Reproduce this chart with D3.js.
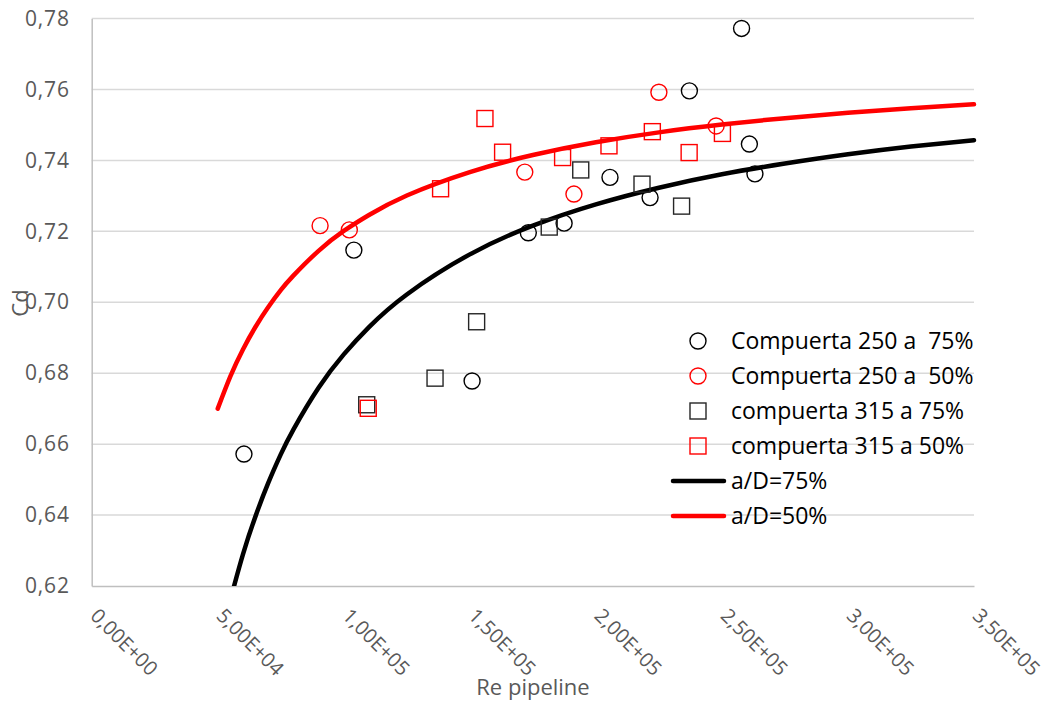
<!DOCTYPE html>
<html>
<head>
<meta charset="utf-8">
<script src="https://cdn.jsdelivr.net/npm/d3@7"></script>
<style>
  html, body { margin: 0; padding: 0; background: #fff; }
  svg { display: block; }
  .legend-label { white-space: pre; }
</style>
</head>
<body>
<svg id="chart" width="1045" height="704"></svg>
<script>
// Measured discharge coefficients (Cd) against pipeline Reynolds number
const gate250at75Re = [60400, 104000, 150900, 173200, 187400, 205600, 221500, 237100, 257800, 260900, 263100];
const gate250at75Cd = [0.6572, 0.7147, 0.6778, 0.7196, 0.7223, 0.7352, 0.7295, 0.7596, 0.7772, 0.7446, 0.7362];

const gate250at50Re = [90600, 102200, 171800, 191300, 225000, 247700];
const gate250at50Cd = [0.7216, 0.7204, 0.7367, 0.7305, 0.7592, 0.7497];

const gate315at75Re = [109100, 136200, 152700, 181500, 194000, 218300, 234000];
const gate315at75Cd = [0.6711, 0.6786, 0.6945, 0.7212, 0.7373, 0.7333, 0.7271];

const gate315at50Re = [109700, 138400, 156000, 163000, 186800, 205200, 222400, 237000, 250200];
const gate315at50Cd = [0.6701, 0.7320, 0.7518, 0.7423, 0.7408, 0.7441, 0.7481, 0.7422, 0.7476];

// Fitted design curves
const curve75Re = [55000, 60000, 65000, 70000, 75000, 80000, 90000, 100000, 110000, 125000, 150000, 175000, 200000, 225000, 250000, 275000, 300000, 325000, 350000];
const curve75Cd = [0.6161, 0.6289, 0.6397, 0.6490, 0.6571, 0.6641, 0.6759, 0.6853, 0.6930, 0.7022, 0.7135, 0.7216, 0.7276, 0.7323, 0.7361, 0.7391, 0.7417, 0.7439, 0.7457];

const curve50Re = [50000, 55000, 60000, 65000, 70000, 75000, 80000, 90000, 100000, 110000, 125000, 150000, 175000, 200000, 225000, 250000, 275000, 300000, 325000, 350000];
const curve50Cd = [0.6700, 0.6791, 0.6867, 0.6931, 0.6986, 0.7034, 0.7075, 0.7145, 0.7201, 0.7246, 0.7301, 0.7367, 0.7415, 0.7451, 0.7479, 0.7501, 0.7519, 0.7534, 0.7547, 0.7558];

// Axis ticks
const xTicks = [0, 50000, 100000, 150000, 200000, 250000, 300000, 350000];
const xTickLabels = ["0,00E+00", "5,00E+04", "1,00E+05", "1,50E+05", "2,00E+05", "2,50E+05", "3,00E+05", "3,50E+05"];
const yTicks = [0.62, 0.64, 0.66, 0.68, 0.70, 0.72, 0.74, 0.76, 0.78];
const yTickLabels = ["0,62", "0,64", "0,66", "0,68", "0,70", "0,72", "0,74", "0,76", "0,78"];

const seriesNames = ["Compuerta 250 a  75%", "Compuerta 250 a  50%", "compuerta 315 a 75%", "compuerta 315 a 50%", "a/D=75%", "a/D=50%"];

const zip = (xs, ys) => xs.map((x, i) => ({ x, y: ys[i] }));

const svg = d3.select("#chart");
const plot = { left: 91.7, right: 974, top: 18.5, bottom: 586 };

const x = d3.scaleLinear().domain([0, 350000]).range([plot.left, plot.right]);
const y = d3.scaleLinear().domain([0.62, 0.78]).range([plot.bottom, plot.top]);

const tickFont = "'Open Sans', sans-serif";
const legendFont = "'Open Sans', sans-serif";

// Horizontal gridlines
svg.append("g")
  .selectAll("line")
  .data(yTicks.slice(1))
  .join("line")
  .attr("x1", plot.left).attr("x2", plot.right)
  .attr("y1", d => y(d)).attr("y2", d => y(d))
  .attr("stroke", "#d9d9d9").attr("stroke-width", 1.5);

// Y axis
const yAxis = svg.append("g")
  .attr("transform", `translate(${plot.left},0)`)
  .call(d3.axisLeft(y).tickValues(yTicks).tickFormat((d, i) => yTickLabels[i]).tickSize(0).tickPadding(22));
yAxis.select(".domain").attr("stroke", "#bfbfbf").attr("stroke-width", 1.5);
yAxis.selectAll("text")
  .attr("font-family", tickFont).attr("font-size", 21).attr("fill", "#595959")
  .attr("letter-spacing", 0.8);

// X axis with slanted labels
const xAxis = svg.append("g")
  .attr("transform", `translate(0,${plot.bottom})`)
  .call(d3.axisBottom(x).tickValues(xTicks).tickFormat((d, i) => xTickLabels[i]).tickSize(0));
xAxis.select(".domain").attr("stroke", "#bfbfbf").attr("stroke-width", 1.5);
xAxis.selectAll("text")
  .attr("font-family", tickFont).attr("font-size", 20).attr("fill", "#595959")
  .attr("text-anchor", "start")
  .attr("dy", 0)
  .attr("y", 0)
  .attr("transform", "translate(-3,31) rotate(45)");

// Axis titles
svg.append("text")
  .attr("x", 533).attr("y", 695)
  .attr("text-anchor", "middle")
  .attr("font-family", tickFont).attr("font-size", 22).attr("fill", "#595959")
  .text("Re pipeline");

svg.append("text")
  .attr("transform", "translate(28,303) rotate(-90)")
  .attr("text-anchor", "middle")
  .attr("font-family", tickFont).attr("font-size", 22).attr("fill", "#595959")
  .text("Cd");

// Curves, clipped to the plotting area
svg.append("clipPath").attr("id", "plotClip")
  .append("rect")
  .attr("x", plot.left).attr("y", plot.top)
  .attr("width", plot.right - plot.left + 3).attr("height", plot.bottom - plot.top);

const line = d3.line().x(d => x(d.x)).y(d => y(d.y)).curve(d3.curveNatural);
const curves = svg.append("g").attr("clip-path", "url(#plotClip)");
curves.append("path")
  .datum(zip(curve75Re, curve75Cd))
  .attr("d", line).attr("fill", "none")
  .attr("stroke", "#000").attr("stroke-width", 4.5).attr("stroke-linecap", "round");
curves.append("path")
  .datum(zip(curve50Re, curve50Cd))
  .attr("d", line).attr("fill", "none")
  .attr("stroke", "#ff0000").attr("stroke-width", 4.5).attr("stroke-linecap", "round");

// Markers
const r = 8;
const side = 16;
function circles(data, color) {
  svg.append("g").selectAll("circle").data(data).join("circle")
    .attr("cx", d => x(d.x)).attr("cy", d => y(d.y)).attr("r", r)
    .attr("fill", "none").attr("stroke", color).attr("stroke-width", 1.4);
}
function squares(data, color) {
  svg.append("g").selectAll("rect").data(data).join("rect")
    .attr("x", d => x(d.x) - side / 2).attr("y", d => y(d.y) - side / 2)
    .attr("width", side).attr("height", side)
    .attr("fill", "none").attr("stroke", color).attr("stroke-width", 1.4);
}
circles(zip(gate250at75Re, gate250at75Cd), "#000");
circles(zip(gate250at50Re, gate250at50Cd), "#ff0000");
squares(zip(gate315at75Re, gate315at75Cd), "#262626");
squares(zip(gate315at50Re, gate315at50Cd), "#ff0000");

// Legend
const legend = svg.append("g");
const legendTop = 341;
const rowGap = 35;
const markerX = 698;
const textX = 731;
const legendItems = [
  { type: "circle", color: "#000" },
  { type: "circle", color: "#ff0000" },
  { type: "square", color: "#262626" },
  { type: "square", color: "#ff0000" },
  { type: "line", color: "#000" },
  { type: "line", color: "#ff0000" }
];
legendItems.forEach((item, i) => {
  const cy = legendTop + i * rowGap;
  if (item.type === "circle") {
    legend.append("circle").attr("cx", markerX).attr("cy", cy).attr("r", r)
      .attr("fill", "none").attr("stroke", item.color).attr("stroke-width", 1.4);
  } else if (item.type === "square") {
    legend.append("rect").attr("x", markerX - side / 2).attr("y", cy - side / 2)
      .attr("width", side).attr("height", side)
      .attr("fill", "none").attr("stroke", item.color).attr("stroke-width", 1.4);
  } else {
    legend.append("line").attr("x1", 673).attr("x2", 724).attr("y1", cy).attr("y2", cy)
      .attr("stroke", item.color).attr("stroke-width", 4.5).attr("stroke-linecap", "round");
  }
  legend.append("text")
    .attr("class", "legend-label")
    .attr("x", textX).attr("y", cy)
    .attr("dy", "0.35em")
    .attr("font-family", legendFont).attr("font-size", 23).attr("fill", "#000")
    .text(seriesNames[i]);
});
</script>
</body>
</html>
